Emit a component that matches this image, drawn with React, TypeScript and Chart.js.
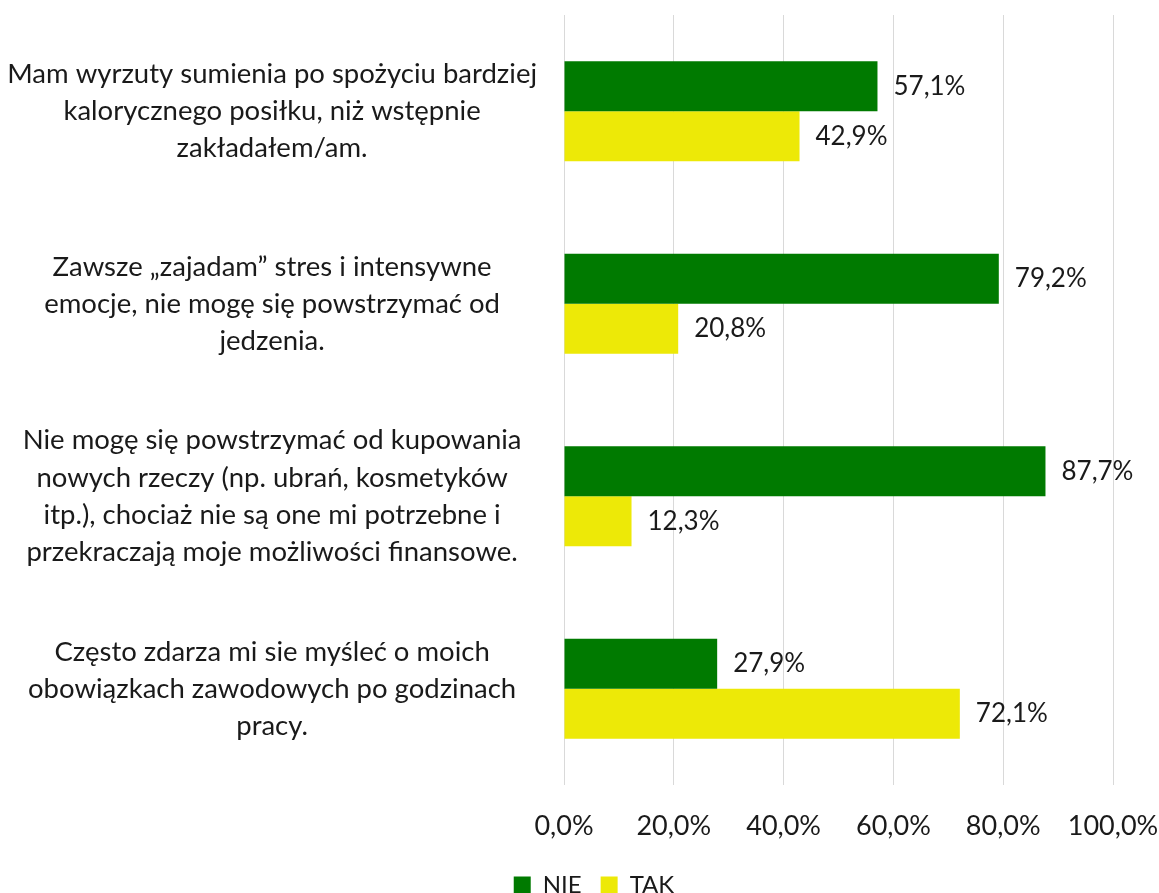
import React, { useEffect, useRef } from "react";
import { Chart, registerables } from "chart.js";

Chart.register(...registerables);

const categories: string[][] = [
  ["Mam wyrzuty sumienia po spożyciu bardziej", "kalorycznego posiłku, niż wstępnie", "zakładałem/am."],
  ["Zawsze „zajadam” stres i intensywne", "emocje, nie mogę się powstrzymać od", "jedzenia."],
  ["Nie mogę się powstrzymać od kupowania", "nowych rzeczy (np. ubrań, kosmetyków", "itp.), chociaż nie są one mi potrzebne i", "przekraczają moje możliwości finansowe."],
  ["Często zdarza mi sie myśleć o moich", "obowiązkach zawodowych po godzinach", "pracy."],
];
const nieValues = [57.1, 79.2, 87.7, 27.9];
const takValues = [42.9, 20.8, 12.3, 72.1];
const xTickValues = [0, 20, 40, 60, 80, 100];

const FONT = "Lato";
const fmt = (v: number) => v.toFixed(1).replace(".", ",") + "%";

const valueLabels = {
  id: "valueLabels",
  afterDatasetsDraw(chart: any) {
    const ctx = chart.ctx;
    ctx.save();
    ctx.font = `26px ${FONT}`;
    ctx.fillStyle = "#1a1a1a";
    ctx.textAlign = "left";
    ctx.textBaseline = "middle";
    chart.data.datasets.forEach((ds: any, di: number) => {
      const meta = chart.getDatasetMeta(di);
      meta.data.forEach((bar: any, i: number) => {
        ctx.fillText(fmt(ds.data[i]), bar.x + 16, bar.y);
      });
    });
    ctx.restore();
  },
};

// shift the legend's centring box a bit to the right, as in the reference
const legendShift = {
  id: "legendShift",
  afterLayout(chart: any) {
    if (chart.legend) chart.legend.left += 75;
  },
};

export default function App() {
  const ref = useRef<HTMLCanvasElement>(null);
  useEffect(() => {
    document.body.style.margin = "0";
    const chart = new Chart(ref.current!, {
      type: "bar",
      data: {
        labels: categories,
        datasets: [
          { label: "NIE", data: nieValues, backgroundColor: "#007A00", borderWidth: 0 },
          { label: "TAK", data: takValues, backgroundColor: "#EDE907", borderWidth: 0 },
        ],
      },
      options: {
        indexAxis: "y",
        responsive: false,
        animation: false,
        devicePixelRatio: 1,
        layout: { padding: { top: 15, right: 46, bottom: -14, left: 0 } },
        datasets: { bar: { categoryPercentage: 0.52, barPercentage: 1 } },
        scales: {
          x: {
            min: 0,
            max: 100,
            afterBuildTicks: (s: any) => {
              s.ticks = xTickValues.map((v) => ({ value: v }));
            },
            afterFit: (s: any) => {
              s.height = 69;
              s.paddingLeft = 0;
              s.paddingRight = 0;
            },
            grid: { color: "#d9d9d9", lineWidth: 1, drawTicks: false },
            border: { display: false },
            ticks: {
              padding: 25,
              color: "#1a1a1a",
              font: { family: FONT, size: 27 },
              callback: (v: any) => fmt(Number(v)),
            },
          },
          y: {
            afterFit: (s: any) => {
              s.width = 564;
              s.paddingTop = 0;
              s.paddingBottom = 0;
            },
            grid: { display: false, drawTicks: false },
            border: { display: false },
            ticks: {
              padding: 27,
              crossAlign: "center",
              color: "#1a1a1a",
              font: { family: FONT, size: 27.5, lineHeight: 1.35 },
            },
          },
        },
        plugins: {
          legend: {
            position: "bottom",
            labels: {
              boxWidth: 17,
              boxHeight: 17,
              padding: 19,
              color: "#1a1a1a",
              font: { family: FONT, size: 24 },
            },
          },
          tooltip: { enabled: false },
        },
      },
      plugins: [valueLabels, legendShift],
    });
    return () => chart.destroy();
  }, []);
  return (
    <div style={{ width: 1159, height: 893 }}>
      <canvas ref={ref} width={1159} height={893} />
    </div>
  );
}
